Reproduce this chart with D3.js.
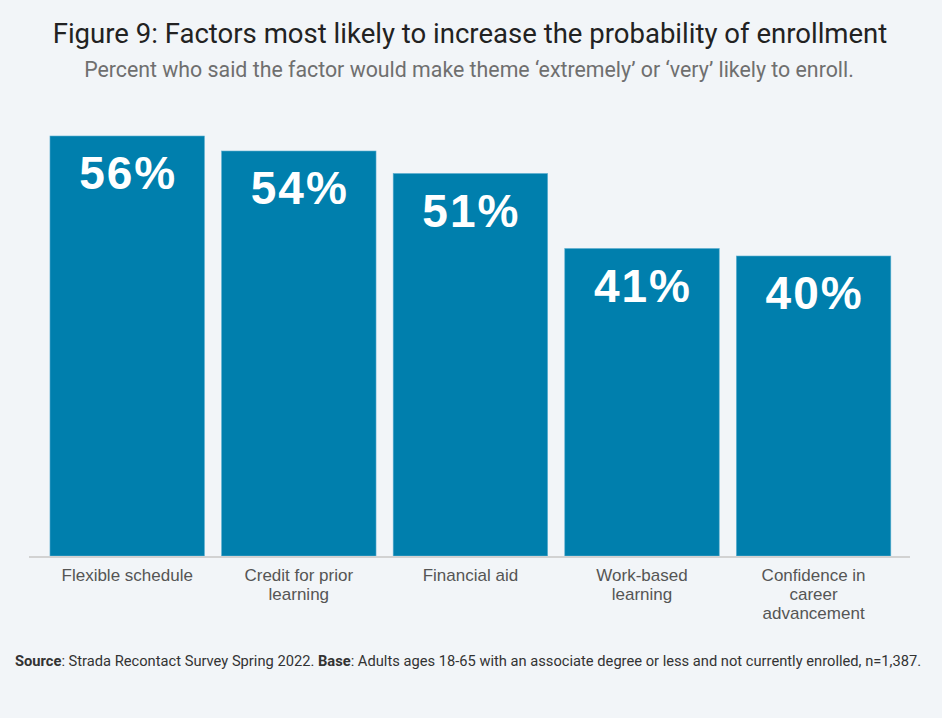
<!DOCTYPE html>
<html>
<head>
<meta charset="utf-8">
<script src="https://cdn.jsdelivr.net/npm/d3@7"></script>
<style>
  html, body { margin: 0; padding: 0; background: #f2f5f8; }
  svg { display: block; }
</style>
</head>
<body>
<script>
const categories = ["Flexible schedule", "Credit for prior learning", "Financial aid", "Work-based learning", "Confidence in career advancement"];
const values = [56, 54, 51, 41, 40];
const valueLabels = ["56%", "54%", "51%", "41%", "40%"];
const titleText = "Figure 9: Factors most likely to increase the probability of enrollment";
const subtitleText = "Percent who said the factor would make theme \u2018extremely\u2019 or \u2018very\u2019 likely to enroll.";
const sourceParts = [
  { text: "Source", bold: true },
  { text: ": Strada Recontact Survey Spring 2022. ", bold: false },
  { text: "Base", bold: true },
  { text: ": Adults ages 18-65 with an associate degree or less and not currently enrolled, n=1,387.", bold: false }
];

const W = 942, H = 718;
const svg = d3.select("body").append("svg").attr("width", W).attr("height", H);
svg.append("rect").attr("width", W).attr("height", H).attr("fill", "#f2f5f8");

function fitText(sel, targetWidth, startSize) {
  let size = startSize;
  sel.attr("font-size", size);
  const w = sel.node().getComputedTextLength();
  size = size * targetWidth / w;
  sel.attr("font-size", size);
}

// Title
const title = svg.append("text")
  .attr("x", 470).attr("y", 43)
  .attr("text-anchor", "middle")
  .attr("font-family", "Roboto, 'Noto Sans', sans-serif")
  .attr("fill", "#222")
  .text(titleText);
fitText(title, 835, 26);

const subtitle = svg.append("text")
  .attr("x", 469).attr("y", 77)
  .attr("text-anchor", "middle")
  .attr("font-family", "Roboto, 'Noto Sans', sans-serif")
  .attr("fill", "#6f6f6f")
  .text(subtitleText);
fitText(subtitle, 770, 17);

// Scales
const x = d3.scaleBand().domain(categories).range([41.4, 899.4]).paddingInner(0.1).paddingOuter(0.05);
const y = d3.scaleLinear().domain([0, 60]).range([556, 106]);

// Bars
svg.append("g").selectAll("rect").data(categories).join("rect")
  .attr("x", d => x(d))
  .attr("y", (d, i) => y(values[i]))
  .attr("width", x.bandwidth())
  .attr("height", (d, i) => y(0) - y(values[i]))
  .attr("fill", "#007fad")
  .attr("stroke", "#5aaed0")
  .attr("stroke-width", 0.6);

// Baseline
svg.append("line")
  .attr("x1", 29).attr("x2", 910)
  .attr("y1", y(0) + 1).attr("y2", y(0) + 1)
  .attr("stroke", "#d2d2d2").attr("stroke-width", 2);

// Value labels
svg.append("g").selectAll("text").data(categories).join("text")
  .attr("x", d => x(d) + x.bandwidth() / 2 + 1)
  .attr("y", (d, i) => y(values[i]) + 53)
  .attr("text-anchor", "middle")
  .attr("font-family", "'Liberation Sans', Arial, sans-serif")
  .attr("font-weight", "bold")
  .attr("font-size", 46)
  .attr("letter-spacing", 2)
  .attr("fill", "#ffffff")
  .text((d, i) => valueLabels[i]);

// Category labels with wrapping
const labelG = svg.append("g");
categories.forEach(cat => {
  const cx = x(cat) + x.bandwidth() / 2;
  const t = labelG.append("text")
    .attr("x", cx)
    .attr("y", 581)
    .attr("text-anchor", "middle")
    .attr("font-family", "'Liberation Sans', Arial, sans-serif")
    .attr("font-size", 17)
    .attr("fill", "#555");
  const words = cat.split(" ");
  let line = [];
  let tspan = t.append("tspan").attr("x", cx).attr("dy", 0);
  words.forEach(w => {
    line.push(w);
    tspan.text(line.join(" "));
    if (tspan.node().getComputedTextLength() > 140 && line.length > 1) {
      line.pop();
      tspan.text(line.join(" "));
      line = [w];
      tspan = t.append("tspan").attr("x", cx).attr("dy", 19).text(w);
    }
  });
});

// Source note
const src = svg.append("text")
  .attr("x", 15).attr("y", 666)
  .attr("font-family", "Roboto, 'Noto Sans', sans-serif")
  .attr("fill", "#333");
sourceParts.forEach(p => {
  src.append("tspan").attr("font-weight", p.bold ? "bold" : "normal").text(p.text);
});
fitText(src, 907, 13);
</script>
</body>
</html>
